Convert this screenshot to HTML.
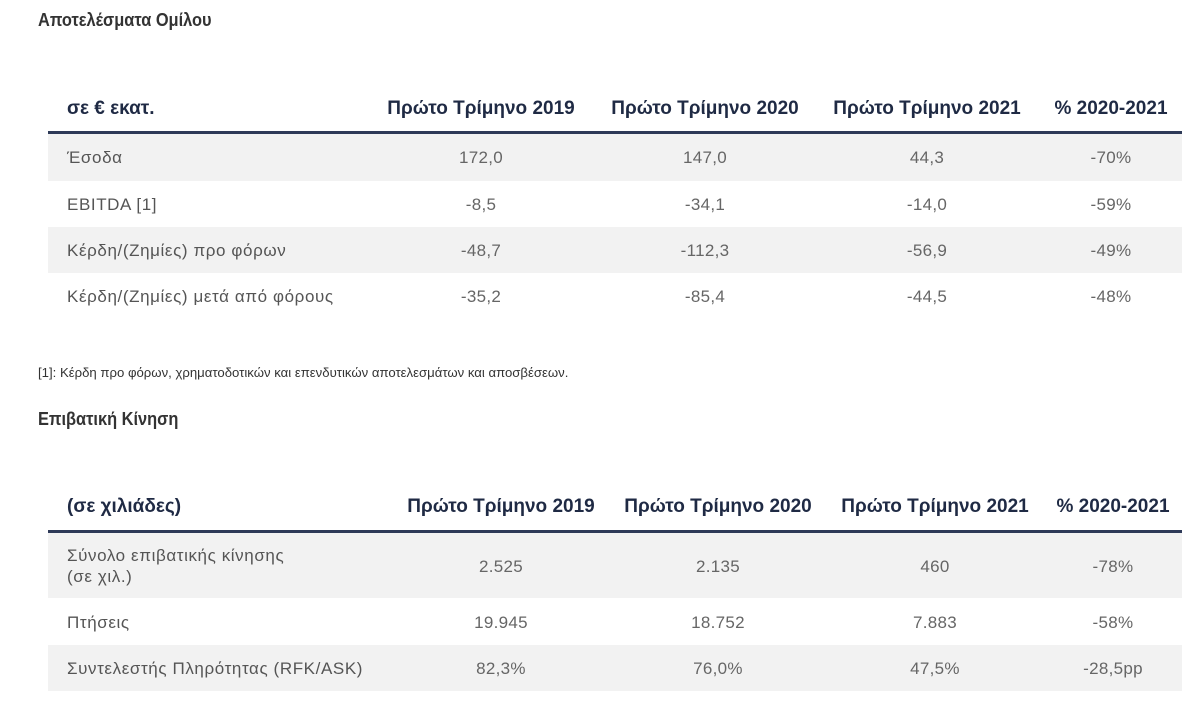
<!DOCTYPE html>
<html><head><meta charset="utf-8"><style>
body{margin:0;width:1189px;height:710px;background:#fff;position:relative;font-family:"Liberation Sans","DejaVu Sans",sans-serif;overflow:hidden}
.t{position:absolute;white-space:nowrap}
.title{font-weight:bold;font-size:18px;color:#333;transform:scaleX(.91);transform-origin:left}
.h{font-weight:bold;font-size:19px;color:#1f2a44;transform:translateX(-50%)}
.hl{font-weight:bold;font-size:19px;color:#1f2a44}
.v{font-size:17px;letter-spacing:.3px;color:#666;transform:translateX(-50%)}
.l{font-size:17px;letter-spacing:.6px;color:#555}
.line{position:absolute;left:48px;width:1134px;height:3px;background:#2e3a58}
.sh{position:absolute;left:48px;width:1134px;background:#f2f2f2}
</style></head><body>
<div class="t title" style="left:38px;top:10px">Αποτελέσματα Ομίλου</div>
<div class="t hl" style="left:67px;top:98px">σε € εκατ.</div>
<div class="t h" style="left:481px;top:98px">Πρώτο Τρίμηνο 2019</div>
<div class="t h" style="left:705px;top:98px">Πρώτο Τρίμηνο 2020</div>
<div class="t h" style="left:927px;top:98px">Πρώτο Τρίμηνο 2021</div>
<div class="t h" style="left:1111px;top:98px">% 2020-2021</div>
<div class="line" style="top:131px"></div>
<div class="sh" style="top:134px;height:47px"></div>
<div class="sh" style="top:227px;height:46px"></div>
<div class="t l" style="left:67px;top:148px">Έσοδα</div>
<div class="t v" style="left:481px;top:148px">172,0</div><div class="t v" style="left:705px;top:148px">147,0</div><div class="t v" style="left:927px;top:148px">44,3</div><div class="t v" style="left:1111px;top:148px">-70%</div>
<div class="t l" style="left:67px;top:195px">EBITDA [1]</div>
<div class="t v" style="left:481px;top:195px">-8,5</div><div class="t v" style="left:705px;top:195px">-34,1</div><div class="t v" style="left:927px;top:195px">-14,0</div><div class="t v" style="left:1111px;top:195px">-59%</div>
<div class="t l" style="left:67px;top:241px">Κέρδη/(Ζημίες) προ φόρων</div>
<div class="t v" style="left:481px;top:241px">-48,7</div><div class="t v" style="left:705px;top:241px">-112,3</div><div class="t v" style="left:927px;top:241px">-56,9</div><div class="t v" style="left:1111px;top:241px">-49%</div>
<div class="t l" style="left:67px;top:287px">Κέρδη/(Ζημίες) μετά από φόρους</div>
<div class="t v" style="left:481px;top:287px">-35,2</div><div class="t v" style="left:705px;top:287px">-85,4</div><div class="t v" style="left:927px;top:287px">-44,5</div><div class="t v" style="left:1111px;top:287px">-48%</div>
<div class="t" style="left:38px;top:365px;font-size:13.3px;color:#333;transform:scaleX(.99);transform-origin:left">[1]: Κέρδη προ φόρων, χρηματοδοτικών και επενδυτικών αποτελεσμάτων και αποσβέσεων.</div>
<div class="t title" style="left:38px;top:409px">Επιβατική Κίνηση</div>
<div class="t hl" style="left:67px;top:496px">(σε χιλιάδες)</div>
<div class="t h" style="left:501px;top:496px">Πρώτο Τρίμηνο 2019</div>
<div class="t h" style="left:718px;top:496px">Πρώτο Τρίμηνο 2020</div>
<div class="t h" style="left:935px;top:496px">Πρώτο Τρίμηνο 2021</div>
<div class="t h" style="left:1113px;top:496px">% 2020-2021</div>
<div class="line" style="top:530px"></div>
<div class="sh" style="top:533px;height:65px"></div>
<div class="sh" style="top:645px;height:46px"></div>
<div class="t l" style="left:67px;top:545px;line-height:21px">Σύνολο επιβατικής κίνησης<br>(σε χιλ.)</div>
<div class="t v" style="left:501px;top:557px">2.525</div><div class="t v" style="left:718px;top:557px">2.135</div><div class="t v" style="left:935px;top:557px">460</div><div class="t v" style="left:1113px;top:557px">-78%</div>
<div class="t l" style="left:67px;top:613px">Πτήσεις</div>
<div class="t v" style="left:501px;top:613px">19.945</div><div class="t v" style="left:718px;top:613px">18.752</div><div class="t v" style="left:935px;top:613px">7.883</div><div class="t v" style="left:1113px;top:613px">-58%</div>
<div class="t l" style="left:67px;top:659px">Συντελεστής Πληρότητας (RFK/ASK)</div>
<div class="t v" style="left:501px;top:659px">82,3%</div><div class="t v" style="left:718px;top:659px">76,0%</div><div class="t v" style="left:935px;top:659px">47,5%</div><div class="t v" style="left:1113px;top:659px">-28,5pp</div>
</body></html>
